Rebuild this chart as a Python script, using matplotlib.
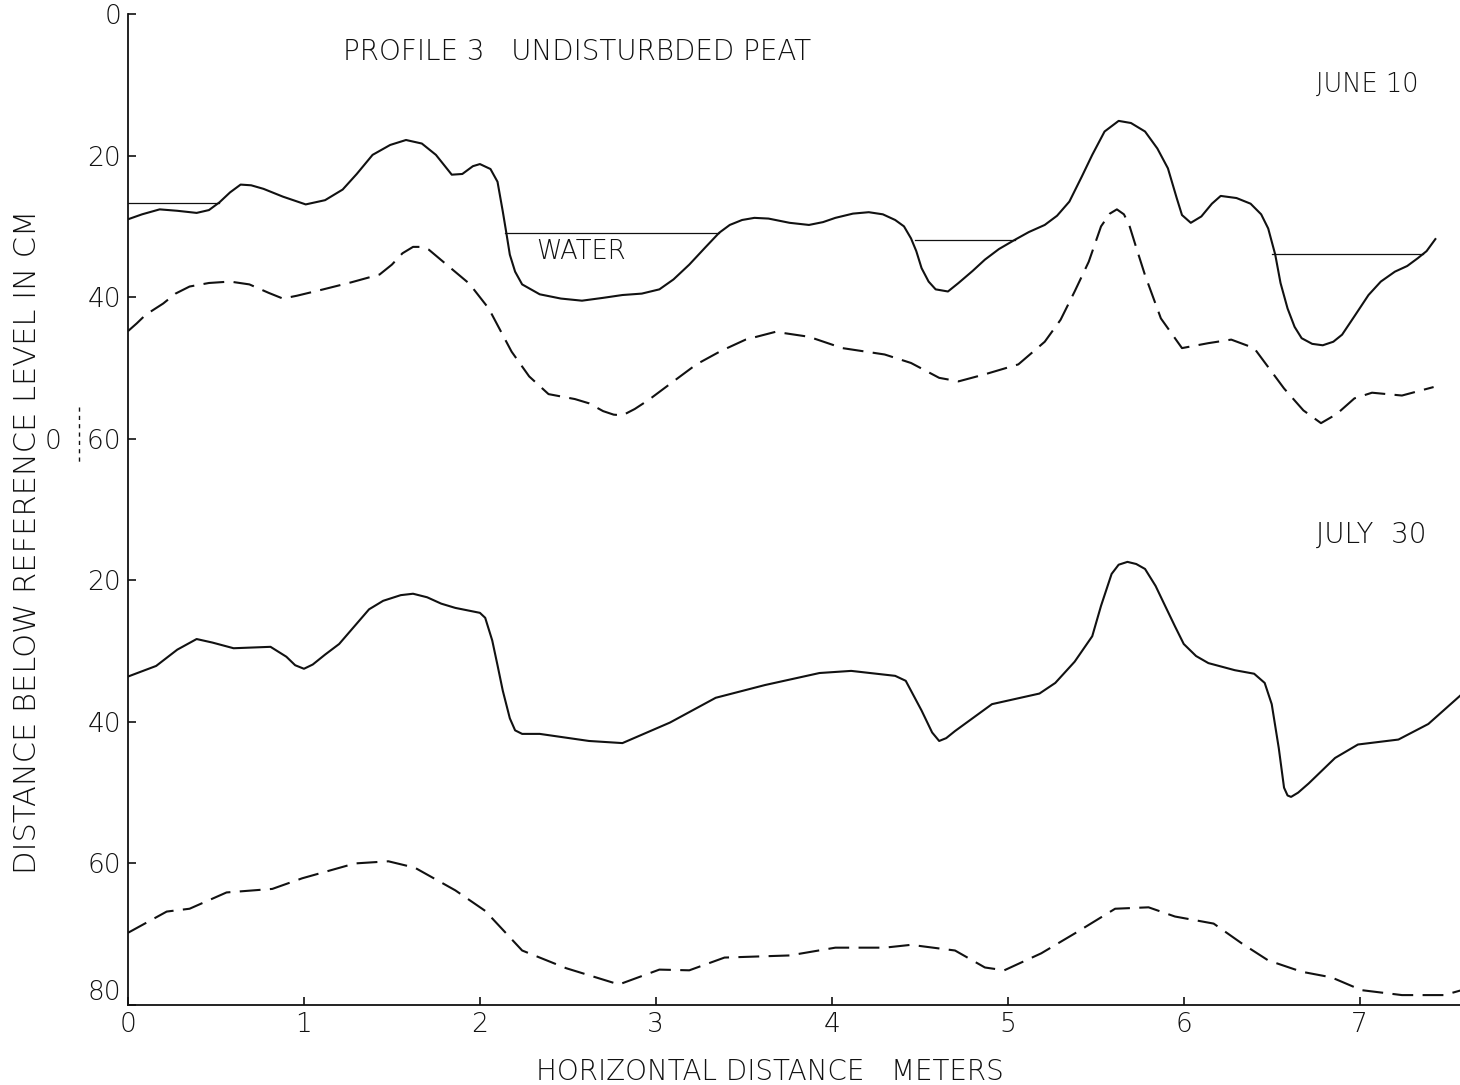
import matplotlib
matplotlib.use("Agg")
import matplotlib.pyplot as plt
import matplotlib.transforms as mtransforms

plt.rcParams['font.family'] = ['DejaVu Sans']
plt.rcParams['font.weight'] = 'light'

# June 10 profile: peat surface (solid) and lower boundary (dashed), cm below reference
june_surface_x = [0.00, 0.08, 0.18, 0.28, 0.39, 0.46, 0.52, 0.58, 0.64, 0.70, 0.77, 0.88,
                  1.01, 1.12, 1.22, 1.30, 1.39, 1.49, 1.58, 1.67, 1.75, 1.84, 1.90, 1.96,
                  2.00, 2.06, 2.10, 2.13, 2.15, 2.17, 2.20, 2.24, 2.34, 2.46, 2.58, 2.70,
                  2.81, 2.92, 3.02, 3.10, 3.19, 3.28, 3.36, 3.42, 3.49, 3.56, 3.64, 3.76,
                  3.87, 3.95, 4.02, 4.12, 4.21, 4.29, 4.36, 4.41, 4.45, 4.48, 4.51, 4.55,
                  4.59, 4.66, 4.72, 4.80, 4.87, 4.95, 5.04, 5.12, 5.21, 5.28, 5.35, 5.42,
                  5.48, 5.55, 5.63, 5.70, 5.78, 5.85, 5.91, 5.96, 5.99, 6.04, 6.10, 6.16,
                  6.21, 6.30, 6.38, 6.44, 6.48, 6.52, 6.55, 6.59, 6.63, 6.67, 6.73, 6.79,
                  6.85, 6.90, 6.97, 7.05, 7.12, 7.20, 7.27, 7.33, 7.38, 7.43]
june_surface_y = [29.0, 28.3, 27.6, 27.8, 28.1, 27.7, 26.6, 25.2, 24.1, 24.2, 24.7, 25.8,
                  26.9, 26.3, 24.8, 22.6, 19.9, 18.5, 17.8, 18.3, 19.9, 22.7, 22.6, 21.5,
                  21.2, 21.9, 23.7, 27.9, 30.9, 34.0, 36.4, 38.2, 39.6, 40.2, 40.5, 40.1,
                  39.7, 39.5, 38.9, 37.5, 35.4, 33.0, 30.9, 29.8, 29.1, 28.8, 28.9, 29.5,
                  29.8, 29.4, 28.8, 28.2, 28.0, 28.3, 29.1, 30.0, 31.7, 33.5, 35.9, 37.8,
                  38.9, 39.2, 38.0, 36.3, 34.7, 33.2, 31.9, 30.8, 29.8, 28.5, 26.5, 23.0,
                  19.9, 16.6, 15.1, 15.4, 16.6, 19.0, 21.8, 26.0, 28.4, 29.5, 28.6, 26.8,
                  25.7, 26.0, 26.8, 28.3, 30.3, 34.0, 38.0, 41.6, 44.2, 45.8, 46.6, 46.8,
                  46.3, 45.3, 42.7, 39.7, 37.8, 36.4, 35.6, 34.5, 33.5, 31.8]

june_lower_x = [0.00, 0.05, 0.10, 0.20, 0.27, 0.35, 0.46, 0.58, 0.69, 0.80, 0.88, 0.96,
                1.11, 1.27, 1.43, 1.50, 1.56, 1.62, 1.67, 1.71, 1.82, 1.94, 2.05, 2.18,
                2.28, 2.39, 2.54, 2.62, 2.70, 2.76, 2.81, 2.88, 2.96, 3.10, 3.23, 3.37,
                3.51, 3.68, 3.87, 4.06, 4.30, 4.45, 4.61, 4.72, 4.87, 5.06, 5.21, 5.30,
                5.38, 5.46, 5.53, 5.58, 5.62, 5.66, 5.69, 5.73, 5.78, 5.87, 5.99, 6.14,
                6.27, 6.40, 6.57, 6.68, 6.78, 6.87, 6.97, 7.07, 7.24, 7.42]
june_lower_y = [44.8, 43.7, 42.5, 40.9, 39.5, 38.5, 38.0, 37.8, 38.2, 39.4, 40.2, 39.8,
                38.9, 37.9, 36.8, 35.4, 33.8, 32.9, 32.9, 33.3, 35.6, 38.1, 41.6, 47.7,
                51.2, 53.7, 54.4, 55.0, 56.1, 56.6, 56.7, 55.8, 54.5, 51.9, 49.5, 47.6,
                46.0, 44.9, 45.6, 47.2, 48.1, 49.3, 51.4, 51.9, 50.9, 49.5, 46.3, 43.2,
                39.2, 35.0, 30.0, 28.2, 27.6, 28.3, 29.8, 33.0, 36.9, 43.0, 47.2, 46.5,
                46.0, 47.2, 52.9, 56.0, 57.8, 56.5, 54.3, 53.5, 53.9, 52.7]

# Standing water on June 10: (start m, end m, level cm)
june_water = [(0.00, 0.52, 26.7), (2.14, 3.36, 30.9), (4.47, 5.04, 31.9), (6.50, 7.36, 33.9)]

# July 30 profile, cm below its own reference (which sits 60 cm lower on the page)
july_surface_x = [0.00, 0.16, 0.28, 0.39, 0.48, 0.60, 0.81, 0.90, 0.95, 1.00, 1.05, 1.12,
                  1.20, 1.37, 1.45, 1.55, 1.62, 1.70, 1.78, 1.86, 2.00, 2.03, 2.07, 2.10,
                  2.13, 2.17, 2.20, 2.24, 2.34, 2.62, 2.81, 3.08, 3.34, 3.62, 3.93, 4.11,
                  4.36, 4.42, 4.51, 4.57, 4.61, 4.65, 4.70, 4.91, 5.18, 5.27, 5.38, 5.48,
                  5.53, 5.59, 5.63, 5.68, 5.73, 5.78, 5.84, 5.89, 5.95, 6.00, 6.07, 6.14,
                  6.29, 6.40, 6.46, 6.50, 6.54, 6.57, 6.59, 6.61, 6.65, 6.71, 6.86, 6.99,
                  7.22, 7.39, 7.58]
july_surface_y = [33.6, 32.1, 29.8, 28.3, 28.8, 29.6, 29.4, 30.8, 32.0, 32.5, 31.9, 30.5,
                  29.0, 24.1, 22.9, 22.1, 21.9, 22.4, 23.3, 23.9, 24.6, 25.3, 28.5, 32.0,
                  35.6, 39.5, 41.2, 41.7, 41.7, 42.7, 43.0, 40.1, 36.6, 34.8, 33.1, 32.8,
                  33.5, 34.2, 38.4, 41.5, 42.7, 42.3, 41.3, 37.5, 36.0, 34.5, 31.5, 27.9,
                  23.6, 19.1, 17.8, 17.4, 17.7, 18.4, 20.8, 23.4, 26.5, 29.0, 30.7, 31.7,
                  32.7, 33.2, 34.5, 37.5, 43.7, 49.3, 50.4, 50.6, 50.0, 48.7, 45.1, 43.2,
                  42.5, 40.3, 36.1]

july_lower_x = [0.00, 0.22, 0.35, 0.56, 0.82, 0.99, 1.29, 1.48, 1.63, 1.86, 2.03, 2.15,
                2.24, 2.49, 2.79, 3.02, 3.19, 3.39, 3.76, 4.02, 4.30, 4.45, 4.70, 4.87,
                4.98, 5.19, 5.38, 5.61, 5.80, 5.95, 6.17, 6.33, 6.48, 6.67, 6.84, 7.01,
                7.24, 7.48, 7.58]
july_lower_y = [69.8, 66.8, 66.4, 64.1, 63.6, 62.1, 60.0, 59.7, 60.6, 63.8, 66.7, 69.9,
                72.3, 74.8, 77.1, 75.0, 75.1, 73.3, 73.0, 71.9, 71.9, 71.5, 72.3, 74.7,
                75.1, 72.7, 69.9, 66.4, 66.2, 67.5, 68.5, 71.3, 73.7, 75.3, 76.1, 77.9,
                78.6, 78.6, 77.9]

july_offset = 60  # July reference level lies 60 cm below the June one

y_ticks = [0, 20, 40, 60, 80, 100, 120, 140]
y_tick_labels = ['0', '20', '40', '0   60', '20', '40', '60', '80']
x_ticks = [0, 1, 2, 3, 4, 5, 6, 7]

ink = '#111111'

fig = plt.figure(figsize=(14.6, 10.85), dpi=100)
ax = fig.add_axes([128 / 1460, 1 - 1005 / 1085, 1 - 128 / 1460, (1005 - 14) / 1085])

dash = (0, (10, 4.5))
ax.plot(june_surface_x, june_surface_y, color=ink, lw=1.5, solid_joinstyle='round')
ax.plot(june_lower_x, june_lower_y, color=ink, lw=1.5, linestyle=dash)
for x0, x1, lvl in june_water:
    ax.plot([x0, x1], [lvl, lvl], color=ink, lw=0.9)

ax.plot(july_surface_x, [v + july_offset for v in july_surface_y], color=ink, lw=1.5,
        solid_joinstyle='round')
ax.plot(july_lower_x, [v + july_offset for v in july_lower_y], color=ink, lw=1.5,
        linestyle=dash)

ax.set_xlim(0, 7.57)
ax.set_ylim(140, 0)
ax.spines['top'].set_visible(False)
ax.spines['right'].set_visible(False)
for s in ('left', 'bottom'):
    ax.spines[s].set_linewidth(1.3)
    ax.spines[s].set_color(ink)

ax.set_yticks(y_ticks)
ax.set_yticklabels(y_tick_labels)
ax.set_xticks(x_ticks)
ax.set_xticklabels([str(t) for t in x_ticks])
ax.tick_params(axis='both', direction='in', length=6, width=1.2, color=ink,
               labelsize=19, labelcolor=ink)
ax.tick_params(axis='y', pad=5)
ax.tick_params(axis='x', pad=5)

# bottom label of the depth scale sits a little above the baseline corner
ax.get_yticklabels()[-1].set_verticalalignment('bottom')

# broken-scale mark through the "0 60" label
trans = mtransforms.blended_transform_factory(ax.transAxes, ax.transData)
ax.plot([-0.0365, -0.0365], [55.5, 63.5], transform=trans, color=ink, lw=1.0,
        linestyle=(0, (3, 3)), clip_on=False)

ax.text(1.22, 5.4, 'PROFILE 3   UNDISTURBDED PEAT', fontsize=20, color=ink, va='center')
ax.text(6.75, 10.0, 'JUNE 10', fontsize=18.5, color=ink, va='center')
ax.text(6.75, 73.6, 'JULY  30', fontsize=20, color=ink, va='center')
ax.text(2.32, 33.5, 'WATER', fontsize=18.5, color=ink, va='center')

fig.text(28 / 1460, 1 - 542 / 1085, 'DISTANCE BELOW REFERENCE LEVEL IN CM', rotation=90,
         fontsize=22, color=ink, ha='center', va='center')
fig.text(770 / 1460, 1 - 1072 / 1085, 'HORIZONTAL DISTANCE   METERS', fontsize=20,
         color=ink, ha='center', va='center')

fig.savefig('out.png', dpi=100, facecolor='white')
